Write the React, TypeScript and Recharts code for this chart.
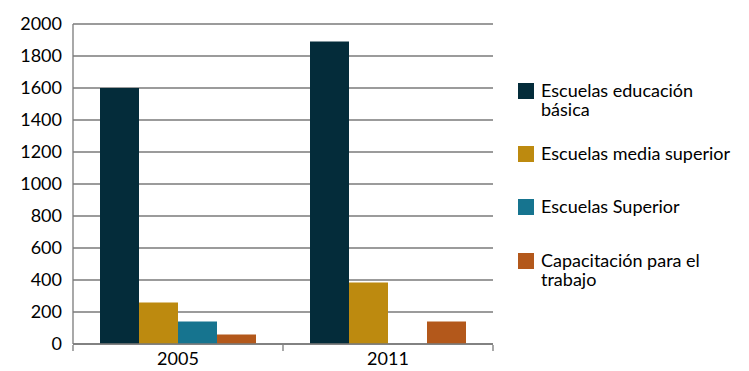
import React from "react";
import { BarChart, Bar, XAxis, YAxis, CartesianGrid } from "recharts";

const categories = ["2005", "2011"];
const basica = [1600, 1890];
const mediaSuperior = [260, 385];
const superior = [140, 0];
const capacitacion = [60, 140];
const yTicks = [0, 200, 400, 600, 800, 1000, 1200, 1400, 1600, 1800, 2000];

const seriesNames = [
  "Escuelas educación básica",
  "Escuelas media superior",
  "Escuelas Superior",
  "Capacitación para el trabajo",
];
const seriesKeys = ["basica", "media", "superior", "capacitacion"];
const colors = ["#042c3a", "#bd8a0f", "#16748f", "#b3581b"];

const data = categories.map((c, i) => ({
  year: c,
  basica: basica[i],
  media: mediaSuperior[i],
  superior: superior[i],
  capacitacion: capacitacion[i],
}));

const FONT = "Lato, 'Open Sans', sans-serif";
const LEGEND_TOPS = [83, 146, 199, 253];
const PLOT_LEFT = 73;
const PLOT_RIGHT = 493;
const BAND = (PLOT_RIGHT - PLOT_LEFT) / categories.length;

const XTick = (props: any) => {
  const { x, y, payload, index } = props;
  const lines = [
    <line key="l" x1={x - BAND / 2} x2={x - BAND / 2} y1={y - 1} y2={y + 5} stroke="#7a7a7a" strokeWidth={1.3} />,
  ];
  if (index === categories.length - 1) {
    lines.push(
      <line key="r" x1={x + BAND / 2} x2={x + BAND / 2} y1={y - 1} y2={y + 5} stroke="#7a7a7a" strokeWidth={1.3} />
    );
  }
  return (
    <g>
      {lines}
      <text x={x} y={y + 19} textAnchor="middle" fontSize={18} fontFamily={FONT} fill="#000">
        {payload.value}
      </text>
    </g>
  );
};

export default function App() {
  return (
    <div style={{ position: "absolute", left: 0, top: 0, width: 749, height: 371, background: "#fff" }}>
      <BarChart
        width={749}
        height={371}
        data={data}
        margin={{ top: 24, right: 749 - PLOT_RIGHT, left: PLOT_LEFT - 60, bottom: 7 }}
        barGap={0}
        barCategoryGap={27}
      >
        <CartesianGrid vertical={false} stroke="#7a7a7a" strokeWidth={1.3} />
        <XAxis
          dataKey="year"
          axisLine={{ stroke: "#7a7a7a", strokeWidth: 1.3 }}
          tickLine={false}
          tickSize={0}
          height={20}
          tick={<XTick />}
          interval={0}
        />
        <YAxis
          domain={[0, 2000]}
          ticks={yTicks}
          width={60}
          axisLine={{ stroke: "#7a7a7a", strokeWidth: 1.3 }}
          tickLine={false}
          tickMargin={5}
          tick={{ fontSize: 18, fontFamily: FONT, fill: "#000" }}
          interval={0}
        />
        {seriesKeys.map((k, i) => (
          <Bar key={k} dataKey={k} name={seriesNames[i]} fill={colors[i]} isAnimationActive={false} />
        ))}
      </BarChart>
      {seriesNames.map((name, i) => (
        <div
          key={name}
          style={{
            position: "absolute",
            left: 518,
            top: LEGEND_TOPS[i],
            display: "flex",
            alignItems: "flex-start",
          }}
        >
          <div style={{ width: 16, height: 16, background: colors[i] }} />
          <div
            style={{
              marginLeft: 7,
              width: 195,
              fontFamily: FONT,
              fontSize: 18,
              lineHeight: "19px",
              color: "#000",
              marginTop: -2,
            }}
          >
            {name}
          </div>
        </div>
      ))}
    </div>
  );
}
